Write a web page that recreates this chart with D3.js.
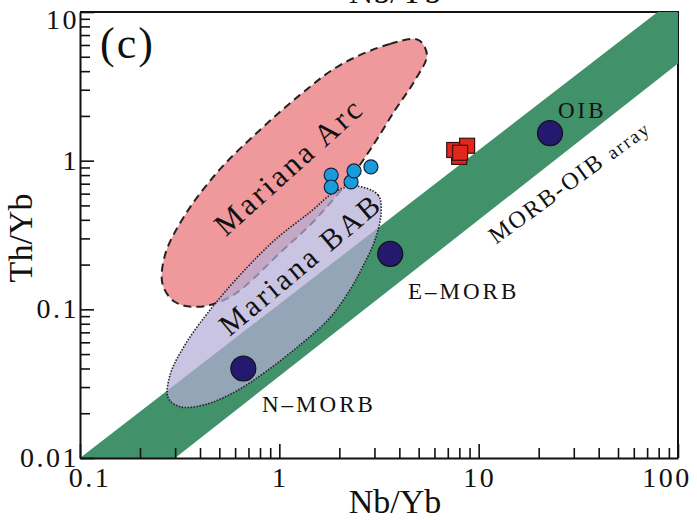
<!DOCTYPE html>
<html>
<head>
<meta charset="utf-8">
<script src="https://cdn.jsdelivr.net/npm/d3@7"></script>
<style>
  body { margin: 0; background: #fff; }
  svg { display: block; font-family: "Liberation Serif", "Times New Roman", serif; }
</style>
</head>
<body>
<svg id="chart" width="697" height="520"></svg>
<script>
"use strict";

// axis labels
const xTickLabels = [0.1, 1, 10, 100];
const yTickLabels = [0.01, 0.1, 1, 10];

// MORB-OIB array band, [Nb/Yb, Th/Yb]
const bandOutline = [[0.1, 0.01], [79, 10], [100, 10], [100, 4.5], [0.3, 0.01]];

// Mariana Arc field (dashed)
const arcOutline = [
  [4.97, 6.5], [3.59, 6.1], [2.02, 4.4], [1.27, 2.77], [0.80, 1.61], [0.50, 0.866],
  [0.336, 0.43], [0.267, 0.232], [0.26, 0.146], [0.30, 0.112], [0.39, 0.104],
  [0.566, 0.121], [1.044, 0.251], [1.475, 0.387], [2.14, 0.687], [2.85, 1.18],
  [3.81, 2.19], [4.8, 3.49], [5.5, 5.15]
];

// Mariana BAB field (dotted)
const babOutline = [
  [2.40, 0.676], [3.13, 0.587], [3.24, 0.452], [3.02, 0.293], [2.60, 0.190],
  [2.26, 0.135], [1.79, 0.0875], [1.27, 0.0576], [0.85, 0.0379], [0.60, 0.0279],
  [0.42, 0.0228], [0.318, 0.0221], [0.277, 0.0254], [0.283, 0.0362], [0.336, 0.0576],
  [0.449, 0.099], [0.635, 0.170], [0.95, 0.293], [1.43, 0.452], [1.90, 0.617]
];

// reference basalts
const refNames = ["N\u2013MORB", "E\u2013MORB", "OIB"];
const refNb = [0.66, 3.6, 22.8];
const refTh = [0.040, 0.236, 1.53];

// samples
const circleNb = [1.82, 1.82, 2.29, 2.37, 2.88];
const circleTh = [0.80, 0.665, 0.719, 0.853, 0.908];
const squareNb = [7.98, 7.54, 8.75, 8.07];
const squareTh = [1.06, 1.18, 1.26, 1.13];

(function() {
  const svg = d3.select("#chart");
  const left = 80, top = 12, right = 678, bottom = 458;

  const x = d3.scaleLog().domain([0.1, 100]).range([left, right]);
  const y = d3.scaleLog().domain([0.01, 10]).range([bottom, top]);

  const toPx = d => [x(d[0]), y(d[1])];
  const isMajor = v => Math.abs(Math.log10(v) - Math.round(Math.log10(v))) < 1e-6;

  svg.append("defs").append("clipPath").attr("id", "plot")
    .append("rect").attr("x", left).attr("y", top)
    .attr("width", right - left).attr("height", bottom - top);

  // top and right frame (band is drawn over it)
  svg.append("path")
    .attr("d", `M${left},${top}H${right}V${bottom}`)
    .attr("fill", "none").attr("stroke", "#111").attr("stroke-width", 2);

  const g = svg.append("g").attr("clip-path", "url(#plot)");

  // MORB-OIB array
  g.append("path")
    .attr("d", d3.line()(bandOutline.map(toPx)) + "Z")
    .attr("fill", "#41916b");

  // Mariana Arc
  g.append("path")
    .attr("d", d3.line().curve(d3.curveCatmullRomClosed.alpha(0.5))(arcOutline.map(toPx)))
    .attr("fill", "#ef999c")
    .attr("stroke", "#222").attr("stroke-width", 2)
    .attr("stroke-dasharray", "8,5");

  // Mariana BAB
  g.append("path")
    .attr("d", d3.line().curve(d3.curveCatmullRomClosed.alpha(0.5))(babOutline.map(toPx)))
    .attr("fill", "rgb(180,173,214)").attr("fill-opacity", 0.72)
    .attr("stroke", "#222").attr("stroke-width", 1.6)
    .attr("stroke-dasharray", "1.5,1.5");

  // axes
  const xAxis = svg.append("g").attr("transform", `translate(0,${bottom})`)
    .call(d3.axisBottom(x).tickValues(x.ticks()).tickSizeInner(-10).tickSizeOuter(0).tickFormat(""));
  const yAxis = svg.append("g").attr("transform", `translate(${left},0)`)
    .call(d3.axisLeft(y).tickValues(y.ticks()).tickSizeInner(-10).tickSizeOuter(0).tickFormat(""));
  [xAxis, yAxis].forEach(ax => {
    ax.select(".domain").attr("stroke", "#111").attr("stroke-width", 2);
    ax.selectAll(".tick line").attr("stroke", "#111").attr("stroke-width", 1.6);
  });
  xAxis.selectAll(".tick line").filter(d => isMajor(d)).attr("y2", -14);
  yAxis.selectAll(".tick line").filter(d => isMajor(d)).attr("x2", 14);

  // tick labels
  svg.append("g").selectAll("text").data(xTickLabels).join("text")
    .attr("x", (d, i) => x(d) + (i === 0 ? 10 : i === xTickLabels.length - 1 ? -11 : 1))
    .attr("y", 487)
    .attr("text-anchor", "middle")
    .attr("font-size", 28).attr("letter-spacing", 2.5).attr("fill", "#111")
    .text(d => d);

  svg.append("g").selectAll("text").data(yTickLabels).join("text")
    .attr("x", 79)
    .attr("y", (d, i) => y(d) + 9 + (i === yTickLabels.length - 1 ? 8 : 0))
    .attr("text-anchor", "end")
    .attr("font-size", 28).attr("letter-spacing", 2.5).attr("fill", "#111")
    .text(d => d);

  // axis titles
  svg.append("text").attr("x", 395).attr("y", 513).attr("text-anchor", "middle")
    .attr("font-size", 34).attr("fill", "#111").text("Nb/Yb");
  svg.append("text").attr("transform", "translate(32,238) rotate(-90)").attr("text-anchor", "middle")
    .attr("font-size", 34).attr("fill", "#111").text("Th/Yb");
  // cut-off title of the panel above
  svg.append("text").attr("x", 395).attr("y", 3).attr("text-anchor", "middle")
    .attr("font-size", 34).attr("fill", "#111").text("Nb/Yb");

  svg.append("text").attr("x", 100).attr("y", 58)
    .attr("font-size", 44).attr("letter-spacing", 2).attr("fill", "#111").text("(c)");

  // field labels
  const fieldLabel = (txt, cx, cy, ang, size) =>
    svg.append("text").attr("transform", `translate(${cx},${cy}) rotate(${ang})`)
      .attr("text-anchor", "middle").attr("font-size", size).attr("letter-spacing", 3)
      .attr("fill", "#111").text(txt);
  fieldLabel("Mariana Arc", 296, 174, -42, 31);
  fieldLabel("Mariana BAB", 307, 272, -40, 30);
  const arr = svg.append("text")
    .attr("transform", "translate(574,188) rotate(-36)")
    .attr("text-anchor", "middle").attr("fill", "#111").attr("letter-spacing", 2);
  arr.append("tspan").attr("font-size", 24).text("MORB-OIB ");
  arr.append("tspan").attr("font-size", 19).text("array");

  // reference basalts
  svg.append("g").selectAll("circle").data(refNb).join("circle")
    .attr("cx", d => x(d)).attr("cy", (d, i) => y(refTh[i])).attr("r", 12.5)
    .attr("fill", "#24196f").attr("stroke", "#111").attr("stroke-width", 1.2);

  const refPos = [[262, 412], [408, 299], [558, 118]];
  svg.append("g").selectAll("text").data(refNames).join("text")
    .attr("x", (d, i) => refPos[i][0]).attr("y", (d, i) => refPos[i][1])
    .attr("font-size", 23).attr("letter-spacing", 3).attr("fill", "#111")
    .text(d => d);

  // samples
  svg.append("g").selectAll("circle").data(circleNb).join("circle")
    .attr("cx", d => x(d)).attr("cy", (d, i) => y(circleTh[i])).attr("r", 7)
    .attr("fill", "#1b9bd9").attr("stroke", "#10243a").attr("stroke-width", 1.2);

  const sq = 15;
  svg.append("g").selectAll("rect").data(squareNb).join("rect")
    .attr("x", d => x(d) - sq / 2).attr("y", (d, i) => y(squareTh[i]) - sq / 2)
    .attr("width", sq).attr("height", sq)
    .attr("fill", "#e1261c").attr("stroke", "#3a1010").attr("stroke-width", 1.2);
})();
</script>
</body>
</html>
